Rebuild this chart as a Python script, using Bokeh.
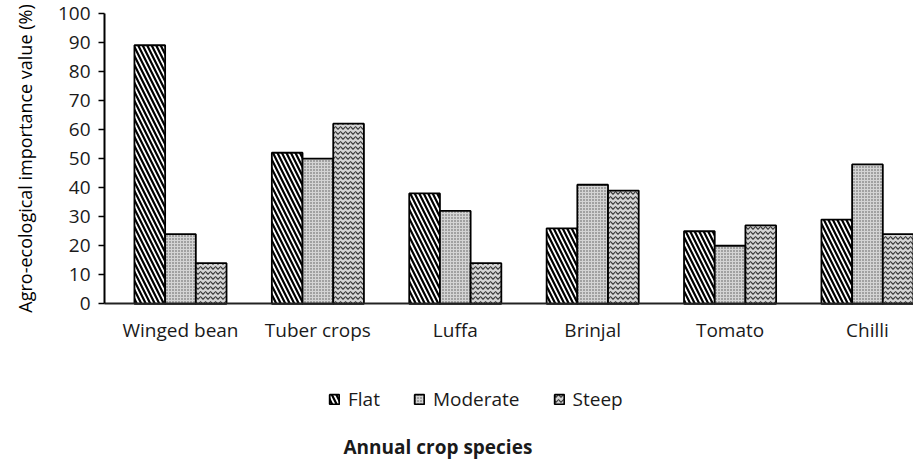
from bokeh.plotting import figure
from bokeh.models import Range1d, FixedTicker, Legend, LegendItem, Label, LinearAxis
from bokeh.embed import file_html
from bokeh.resources import INLINE

# ---- data ----
crops = ["Winged bean", "Tuber crops", "Luffa", "Brinjal", "Tomato", "Chilli"]
series = ["Flat", "Moderate", "Steep"]
flat = [89, 52, 38, 26, 25, 29]
moderate = [24, 50, 32, 41, 20, 48]
steep = [14, 62, 14, 39, 27, 24]
y_ticks = [0, 10, 20, 30, 40, 50, 60, 70, 80, 90, 100]
y_title = "Agro-ecological importance value (%)"
x_title = "Annual crop species"

FONT = "Open Sans"
bar_w = 0.2234
X0 = -0.553  # left end of category axis

p = figure(width=913, height=460, output_backend="svg", toolbar_location=None,
           x_range=Range1d(-1.310, 5.335), y_range=Range1d(-53.9, 104.4),
           x_axis_location=None, y_axis_location=None,
           min_border_left=0, min_border_right=0, min_border_top=0,
           min_border_bottom=0)
p.outline_line_color = None
p.background_fill_color = "white"
p.grid.grid_line_color = None
p.grid.visible = False

styles = [
    dict(fill_color="white", hatch_pattern="left_diagonal_line", hatch_color="black",
         hatch_weight=2.2, hatch_scale=9),
    dict(fill_color="#d4d4d4", hatch_pattern="dot", hatch_color="#555555",
         hatch_weight=1, hatch_scale=3),
    dict(fill_color="#d4d4d4", hatch_pattern="horizontal_wave", hatch_color="#3a3a3a",
         hatch_weight=1.2, hatch_scale=5),
]
offsets = [-bar_w, 0.0, bar_w]
renderers = []
for vals, off, st in zip([flat, moderate, steep], offsets, styles):
    xs = [i + off for i in range(len(crops))]
    r = p.vbar(x=xs, top=vals, width=bar_w, bottom=0, line_color="black",
               line_width=1.8, **st)
    renderers.append(r)

# x axis, drawn at y = 0
xaxis = LinearAxis(fixed_location=0, bounds=(X0, 5.335))
xaxis.ticker = FixedTicker(ticks=list(range(len(crops))))
xaxis.major_label_overrides = {i: c for i, c in enumerate(crops)}
xaxis.major_tick_line_color = None
xaxis.minor_tick_line_color = None
xaxis.major_tick_out = 0
xaxis.major_tick_in = 0
xaxis.axis_line_color = "#222222"
xaxis.axis_line_width = 2
xaxis.major_label_standoff = 13
xaxis.major_label_text_font = FONT
xaxis.major_label_text_font_size = "19px"
xaxis.major_label_text_color = "#1a1a1a"
p.add_layout(xaxis, "below")

# y axis, drawn at the left end of the category axis
yaxis = LinearAxis(fixed_location=X0, bounds=(0, 100))
yaxis.ticker = FixedTicker(ticks=y_ticks)
yaxis.minor_tick_line_color = None
yaxis.major_tick_in = 0
yaxis.major_tick_out = 6
yaxis.major_tick_line_color = "black"
yaxis.major_tick_line_width = 1.5
yaxis.axis_line_color = "black"
yaxis.axis_line_width = 2
yaxis.major_label_standoff = 8
yaxis.major_label_text_font = FONT
yaxis.major_label_text_font_size = "19px"
yaxis.major_label_text_color = "#1a1a1a"
yaxis.axis_label = y_title
yaxis.axis_label_text_font = FONT
yaxis.axis_label_text_font_size = "18px"
yaxis.axis_label_text_font_style = "normal"
yaxis.axis_label_text_color = "black"
yaxis.axis_label_standoff = 18
p.add_layout(yaxis, "left")

legend = Legend(items=[LegendItem(label=s, renderers=[r]) for s, r in zip(series, renderers)],
                orientation="horizontal", location=(328, 48),
                glyph_width=12, glyph_height=12, label_standoff=8, spacing=33,
                padding=0, margin=0, border_line_color=None, background_fill_alpha=0,
                label_text_font=FONT, label_text_font_size="19px",
                label_text_color="#1a1a1a")
p.add_layout(legend)

p.add_layout(Label(x=343, y=14, x_units="screen", y_units="screen", text=x_title,
                   text_font=FONT, text_font_size="19px", text_font_style="bold",
                   text_baseline="middle", text_color="#1a1a1a"))

open("out.html", "w").write(file_html(p, INLINE))
